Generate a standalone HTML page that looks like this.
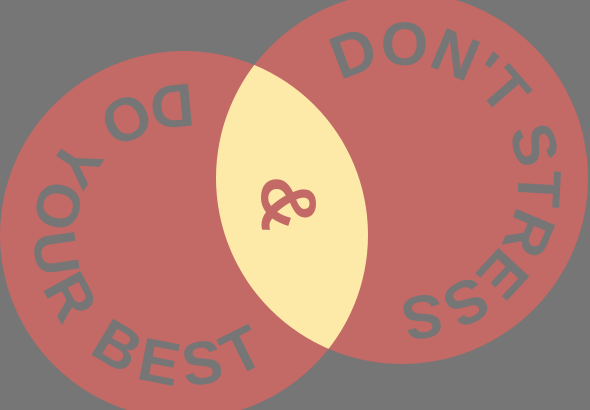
<!DOCTYPE html>
<html><head><meta charset="utf-8"><style>
html,body{margin:0;padding:0;background:#767676;}
svg{display:block;}
text{font-family:"Liberation Sans",sans-serif;font-weight:bold;fill:#767676;}
</style></head><body>
<svg width="590" height="410" viewBox="0 0 590 410">
<defs>
<clipPath id="clipL"><circle cx="184" cy="235" r="184"/></clipPath>
<path id="pathL" d="M 192 85 A 150 150 0 1 0 176 385 A 150 150 0 1 0 192 85"/>
<path id="pathR" d="M 341 82 A 115 115 0 1 1 463 280 A 115 115 0 1 1 341 82"/>
</defs>
<rect width="590" height="410" fill="#767676"/>
<circle cx="184" cy="235" r="184" fill="#c36966"/>
<circle cx="402" cy="178" r="186" fill="#c36966"/>
<circle cx="402" cy="178" r="186" fill="#feeaa8" clip-path="url(#clipL)"/>
<text font-size="61"><textPath href="#pathL" textLength="568" lengthAdjust="spacing">DO YOUR BEST</textPath></text>
<text font-size="61"><textPath href="#pathR" textLength="432" lengthAdjust="spacing">DON'T STRESS</textPath></text>
<text x="0" y="0" font-size="78" text-anchor="middle" transform="translate(290,204) rotate(90)" dy="28" style="fill:#c36966">&amp;</text>
</svg>
</body></html>
